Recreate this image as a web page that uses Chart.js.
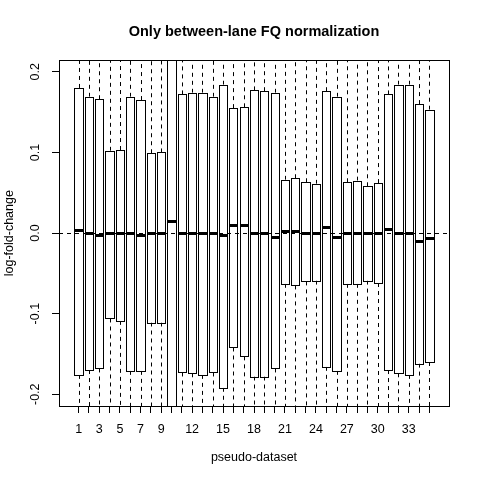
<!DOCTYPE html>
<html>
<head>
<meta charset="utf-8">
<script src="https://cdn.jsdelivr.net/npm/chart.js@4/dist/chart.umd.min.js"></script>
<style>
  html, body { margin: 0; padding: 0; background: #fff; }
  #wrap { width: 480px; height: 480px; }
</style>
</head>
<body>
<div id="wrap"><canvas id="chart" width="480" height="480"></canvas></div>
<script>
// pseudo-dataset index of each box
const datasets = [1, 2, 3, 4, 5, 6, 7, 8, 9, 10, 11, 12, 13, 14, 15, 16, 17, 18,
  19, 20, 21, 22, 23, 24, 25, 26, 27, 28, 29, 30, 31, 32, 33, 34, 35];
const xTickLabels = [1, 3, 5, 7, 9, 12, 15, 18, 21, 24, 27, 30, 33];
const yTicks = [-0.2, -0.1, 0, 0.1, 0.2];

// box hinges and medians (log-fold-change)
const upperHinge = [0.180, 0.169, 0.166, 0.102, 0.103, 0.169, 0.165, 0.099, 0.100, 0.30,
  0.172, 0.174, 0.174, 0.169, 0.184, 0.155, 0.156, 0.177, 0.176, 0.174,
  0.066, 0.068, 0.063, 0.061, 0.176, 0.169, 0.063, 0.065, 0.058, 0.062,
  0.172, 0.184, 0.184, 0.160, 0.153];
const lowerHinge = [-0.176, -0.170, -0.168, -0.106, -0.109, -0.171, -0.171, -0.111, -0.111, -0.30,
  -0.173, -0.174, -0.176, -0.173, -0.192, -0.142, -0.153, -0.178, -0.178, -0.168,
  -0.063, -0.065, -0.060, -0.059, -0.166, -0.171, -0.063, -0.063, -0.059, -0.062,
  -0.170, -0.174, -0.176, -0.162, -0.160];
const medians = [0.004, 0, -0.002, 0, 0, 0, -0.002, 0, 0, 0.015,
  0, 0, 0, 0, -0.002, 0.010, 0.010, 0, 0, -0.005,
  0.002, 0.003, 0, 0, 0.008, -0.005, 0, 0, 0, 0,
  0.005, 0, 0, -0.010, -0.006];
// whiskers run past the plotted range
const upperWhisker = [0.35, 0.35, 0.35, 0.35, 0.35, 0.35, 0.35, 0.35, 0.35, 0.35,
  0.35, 0.35, 0.35, 0.35, 0.35, 0.35, 0.35, 0.35, 0.35, 0.35,
  0.35, 0.35, 0.35, 0.35, 0.35, 0.35, 0.35, 0.35, 0.35, 0.35,
  0.35, 0.35, 0.35, 0.35, 0.35];
const lowerWhisker = [-0.35, -0.35, -0.35, -0.35, -0.35, -0.35, -0.35, -0.35, -0.35, -0.35,
  -0.35, -0.35, -0.35, -0.35, -0.35, -0.35, -0.35, -0.35, -0.35, -0.35,
  -0.35, -0.35, -0.35, -0.35, -0.35, -0.35, -0.35, -0.35, -0.35, -0.35,
  -0.35, -0.35, -0.35, -0.35, -0.35];

const FONT = "'Liberation Sans', Arial, sans-serif";
const BOX_HALF = 0.4; // boxwex 0.8

const snap = (v) => Math.round(v) + 0.5;

// whiskers, box outlines, medians, zero line and the frame
const boxExtras = {
  id: 'boxExtras',
  beforeDatasetsDraw(chart) {
    const { ctx, chartArea: a, scales: { x, y } } = chart;
    ctx.save();
    ctx.beginPath();
    ctx.rect(a.left, a.top, a.right - a.left, a.bottom - a.top);
    ctx.clip();
    ctx.strokeStyle = '#000';
    ctx.lineWidth = 1;
    ctx.setLineDash([4, 4]);
    datasets.forEach((d, i) => {
      const px = snap(x.getPixelForValue(d));
      ctx.beginPath();
      ctx.moveTo(px, y.getPixelForValue(upperHinge[i]));
      ctx.lineTo(px, y.getPixelForValue(upperWhisker[i]));
      ctx.moveTo(px, y.getPixelForValue(lowerHinge[i]));
      ctx.lineTo(px, y.getPixelForValue(lowerWhisker[i]));
      ctx.stroke();
    });
    ctx.restore();
  },
  afterDatasetsDraw(chart) {
    const { ctx, chartArea: a, scales: { x, y } } = chart;
    ctx.save();
    ctx.beginPath();
    ctx.rect(a.left, a.top, a.right - a.left, a.bottom - a.top);
    ctx.clip();
    ctx.strokeStyle = '#000';
    ctx.lineWidth = 1;
    datasets.forEach((d, i) => {
      const l = snap(x.getPixelForValue(d - BOX_HALF));
      const r = snap(x.getPixelForValue(d + BOX_HALF));
      const t = snap(y.getPixelForValue(upperHinge[i]));
      const b = snap(y.getPixelForValue(lowerHinge[i]));
      ctx.strokeRect(l, t, r - l, b - t);
    });
    ctx.lineWidth = 3;
    ctx.lineCap = 'butt';
    datasets.forEach((d, i) => {
      const l = snap(x.getPixelForValue(d - BOX_HALF));
      const r = snap(x.getPixelForValue(d + BOX_HALF));
      const py = Math.round(y.getPixelForValue(medians[i])) + 0.5;
      ctx.beginPath();
      ctx.moveTo(l, py);
      ctx.lineTo(r, py);
      ctx.stroke();
    });
    // abline(h = 0, lty = 2)
    const y0 = snap(y.getPixelForValue(0));
    ctx.lineWidth = 1;
    ctx.setLineDash([4, 4]);
    ctx.beginPath();
    ctx.moveTo(a.left, y0);
    ctx.lineTo(a.right, y0);
    ctx.stroke();
    ctx.restore();
    ctx.save();
    ctx.strokeStyle = '#000';
    ctx.lineWidth = 1;
    ctx.strokeRect(Math.round(a.left) + 0.5, Math.round(a.top) + 0.5,
      Math.round(a.right - a.left), Math.round(a.bottom - a.top));
    ctx.restore();
  }
};

new Chart(document.getElementById('chart'), {
  type: 'bar',
  data: {
    datasets: [{
      data: datasets.map((d, i) => ({ x: d, y: [lowerHinge[i], upperHinge[i]] })),
      backgroundColor: '#fff',
      borderWidth: 0,
      categoryPercentage: 1,
      barPercentage: 0.8
    }]
  },
  options: {
    responsive: false,
    animation: false,
    devicePixelRatio: 1,
    layout: { padding: { left: 0, right: 31, top: 0, bottom: 0 } },
    plugins: {
      legend: { display: false },
      tooltip: { enabled: false },
      title: {
        display: true,
        text: 'Only between-lane FQ normalization',
        color: '#000',
        fullSize: false,
        font: { family: FONT, size: 14.5, weight: 'bold' },
        padding: { top: 23, bottom: 20 }
      }
    },
    scales: {
      x: {
        type: 'linear',
        min: -0.9,
        max: 36.9,
        offset: false,
        afterBuildTicks: (s) => { s.ticks = datasets.map(v => ({ value: v })); },
        afterFit: (s) => { s.height = 74; },
        ticks: {
          autoSkip: false,
          maxRotation: 0,
          color: '#000',
          padding: 9,
          font: { family: FONT, size: 12.5 },
          callback: (v) => xTickLabels.includes(v) ? String(v) : ''
        },
        grid: { display: true, drawOnChartArea: false, drawTicks: true, tickLength: 7, color: '#000', offset: false },
        border: { display: true, color: '#000' },
        title: {
          display: true,
          text: 'pseudo-dataset',
          color: '#000',
          font: { family: FONT, size: 12.5 },
          padding: { top: 0, bottom: 15 }
        }
      },
      y: {
        min: -0.2146,
        max: 0.2142,
        afterBuildTicks: (s) => { s.ticks = yTicks.map(v => ({ value: v })); },
        afterFit: (s) => { s.width = 59; },
        ticks: {
          autoSkip: false,
          minRotation: 90,
          maxRotation: 90,
          crossAlign: 'center',
          color: '#000',
          padding: 6,
          font: { family: FONT, size: 12.5 },
          callback: (v) => v.toFixed(1)
        },
        grid: { display: true, drawOnChartArea: false, drawTicks: true, tickLength: 7, color: '#000' },
        border: { display: true, color: '#000' },
        title: {
          display: true,
          text: 'log-fold-change',
          color: '#000',
          font: { family: FONT, size: 12.5 },
          padding: { top: 2, bottom: 0 }
        }
      }
    }
  },
  plugins: [boxExtras]
});
</script>
</body>
</html>
